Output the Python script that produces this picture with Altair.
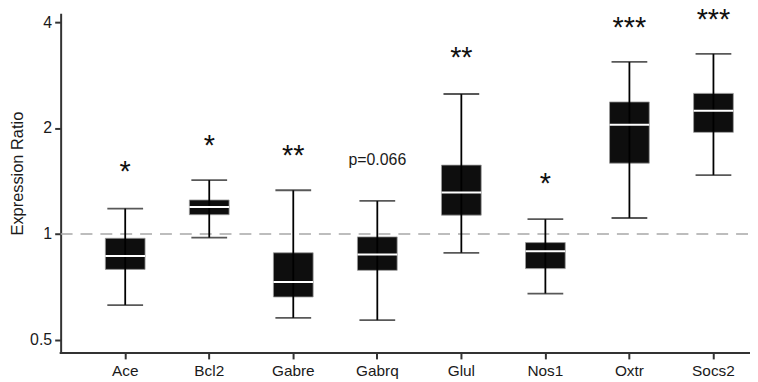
import altair as alt
import pandas as pd

genes = ["Ace", "Bcl2", "Gabre", "Gabrq", "Glul", "Nos1", "Oxtr", "Socs2"]
whisker_low = [0.628, 0.976, 0.577, 0.569, 0.884, 0.677, 1.110, 1.470]
q1 = [0.793, 1.134, 0.662, 0.788, 1.131, 0.797, 1.589, 1.944]
median = [0.865, 1.192, 0.730, 0.874, 1.311, 0.893, 2.043, 2.238]
q3 = [0.972, 1.249, 0.884, 0.981, 1.569, 0.945, 2.372, 2.509]
whisker_high = [1.181, 1.423, 1.331, 1.241, 2.499, 1.102, 3.083, 3.250]
labels = ["*", "*", "**", "p=0.066", "**", "*", "***", "***"]
label_y = [1.538, 1.825, 1.710, 1.620, 3.241, 1.423, 3.953, 4.156]
y_ticks = [0.5, 1, 2, 4]
reference_level = [1]

df = pd.DataFrame({
    "gene": genes, "lo": whisker_low, "q1": q1, "med": median,
    "q3": q3, "hi": whisker_high, "label": labels, "ly": label_y,
})
ref = pd.DataFrame({"v": reference_level})

W, H = 694, 342
FONT = "Liberation Sans"
INK = "#1a1a1a"

xscale = alt.Scale(domain=genes, range=[22.7, 699.5], paddingInner=0, paddingOuter=0)
yscale = alt.Scale(type="log", base=2, domain=[0.459, 4.24], nice=False, zero=False)

xenc = alt.X("gene:N", scale=xscale, sort=genes,
             axis=alt.Axis(title=None, domain=False, labelAngle=0, labelFont=FONT,
                           labelFontSize=15.5, labelColor=INK, tickColor="#333",
                           tickSize=6, tickWidth=2, labelPadding=5))
yaxis = alt.Axis(title="Expression Ratio", values=y_ticks, format="~g", grid=False,
                 labelFont=FONT, labelFontSize=16, labelColor=INK,
                 tickColor="#333", tickSize=6, tickWidth=2, labelPadding=3,
                 domainColor="#333", domainWidth=2,
                 titleFont=FONT, titleFontSize=16.5, titleFontWeight="normal",
                 titleColor=INK, titleX=-43, titleY=161, titleAngle=-90,
                 titleAlign="center", titleBaseline="middle")

base = alt.Chart(df)

dashed = alt.Chart(ref).mark_rule(color="#a8a8a8", strokeWidth=1.6, strokeDash=[12, 8]).encode(
    y=alt.Y("v:Q", scale=yscale, axis=yaxis),
    x=alt.value(0), x2=alt.value(W),
)
box = base.mark_bar(color="#0e0e0e", size=40, stroke="#9a9a9a", strokeWidth=0.8).encode(
    x=xenc, y=alt.Y("q1:Q", scale=yscale), y2="q3:Q")
whisk = base.mark_rule(color="#000", strokeWidth=1.8).encode(
    x=xenc, y=alt.Y("lo:Q", scale=yscale), y2="hi:Q")
cap_lo = base.mark_tick(color="#111", size=36, thickness=1.8).encode(
    x=xenc, y=alt.Y("lo:Q", scale=yscale))
cap_hi = base.mark_tick(color="#111", size=36, thickness=1.8).encode(
    x=xenc, y=alt.Y("hi:Q", scale=yscale))
med = base.mark_tick(color="#ffffff", size=40, thickness=2, opacity=1).encode(
    x=xenc, y=alt.Y("med:Q", scale=yscale))
stars = base.transform_filter("indexof(datum.label, '*') == 0").mark_text(
    font=FONT, fontSize=29, color="#111", baseline="middle", dy=4).encode(
    x=xenc, y=alt.Y("ly:Q", scale=yscale), text="label:N")
ptext = base.transform_filter("indexof(datum.label, '*') != 0").mark_text(
    font=FONT, fontSize=16, color=INK, baseline="middle").encode(
    x=xenc, y=alt.Y("ly:Q", scale=yscale), text="label:N")
xline = alt.Chart(ref).mark_rule(color="#333", strokeWidth=2).encode(
    x=alt.value(-1), x2=alt.value(W), y=alt.value(H))

chart = alt.layer(dashed, box, whisk, cap_lo, cap_hi, med, stars, ptext, xline).properties(
    width=W, height=H,
    autosize=alt.AutoSizeParams(type="none"),
    padding={"left": 53, "top": 4, "right": 0, "bottom": 26},
).configure_view(stroke=None).configure_axis(grid=False)

chart.save("out.html", embed_options={"renderer": "svg", "actions": False})
